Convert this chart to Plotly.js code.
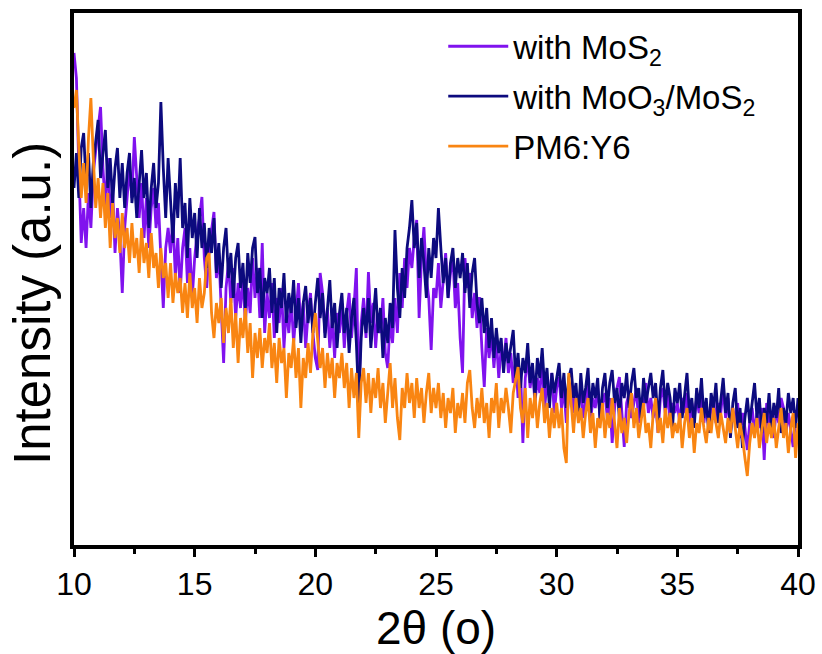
<!DOCTYPE html>
<html><head><meta charset="utf-8">
<script src="https://cdn.plot.ly/plotly-3.0.1.min.js"></script>
<style>html,body{margin:0;padding:0;background:#fff}</style>
</head><body><div id="chart" style="width:822px;height:654px"></div>
<script>
// 2θ grid: first angle and step (degrees)
const THETA_START = 10;
const THETA_STEP = 0.1;

const seriesNames = ['with MoS<sub>2</sub>', 'with MoO<sub>3</sub>/MoS<sub>2</sub>', 'PM6:Y6'];
const xTitle = '2θ (o)';
const yTitle = 'Intensity (a.u.)';

// intensities (a.u.), one value per 0.1° from 10° to 40°
const withMoS2 = [
495,470,380,305,340,300,355,320,375,400,
420,441,380,340,390,330,360,295,340,310,
255,320,355,380,350,411,370,330,365,310,
350,300,340,360,320,345,290,240,300,320,
295,330,270,310,255,300,320,265,300,250,
290,315,330,351,290,260,300,320,336,270,
295,240,185,260,285,245,280,230,265,240,
270,225,260,235,290,250,280,230,305,215,
255,230,265,210,250,225,260,200,240,215,
250,205,240,265,220,245,200,235,255,215,
190,178,275,255,215,240,200,230,190,235,
215,245,200,235,255,210,240,280,150,225,
250,210,276,225,245,200,235,215,250,195,
180,230,205,250,215,275,240,290,260,300,
280,310,328,230,290,321,270,250,198,260,
250,285,240,270,295,250,275,291,240,265,
210,175,290,260,275,230,255,220,251,200,
161,220,190,215,180,210,170,200,185,210,
175,195,165,190,150,180,105,170,190,160,
180,145,170,155,185,140,165,150,175,135,
160,171,140,160,125,150,165,135,155,140,
160,130,150,165,125,150,140,160,130,145,
155,130,150,105,140,160,171,130,101,145,
155,130,145,160,125,150,140,165,135,150,
130,145,115,150,160,135,155,125,145,135,
145,125,150,135,155,120,145,130,150,135,
155,125,145,120,140,150,125,145,135,161,
130,150,115,140,125,145,110,135,120,98,
125,140,115,135,120,140,88,145,120,135,
110,140,125,150,140,115,135,120,101,130,
135];

const withMoO3MoS2 = [
360,395,350,400,415,365,395,340,385,405,
428,370,395,418,360,390,345,380,400,350,
385,340,375,395,345,370,330,365,398,350,
375,320,360,385,340,365,446,380,330,390,
345,305,365,330,390,320,345,290,350,310,
335,290,340,300,325,280,320,295,330,275,
305,260,300,320,270,295,250,290,305,260,
285,240,295,265,300,311,255,280,230,270,
255,280,235,270,215,260,240,275,225,255,
235,268,220,250,205,245,262,225,250,215,
245,270,230,255,210,240,268,220,245,200,
235,255,215,240,195,230,250,205,145,210,
240,215,250,200,235,260,215,240,190,230,
205,245,220,318,260,230,280,250,300,320,
348,300,325,270,310,285,250,300,270,310,
290,340,300,265,290,250,285,300,260,290,
270,295,255,285,240,275,290,245,225,250,
215,240,200,230,190,220,195,210,175,205,
185,200,218,170,195,160,190,175,205,165,
185,150,190,170,200,160,180,140,175,155,
170,185,150,175,140,170,180,150,165,130,
175,145,160,180,135,165,150,170,125,160,
175,140,165,178,145,160,130,165,150,175,
140,165,180,150,160,130,170,145,160,175,
150,165,125,160,178,140,165,150,120,160,
145,165,130,155,175,135,150,120,160,140,
170,130,150,115,155,140,165,125,150,170,
135,155,110,145,160,120,140,100,130,150,
125,145,165,130,150,115,140,125,155,120,
145,130,160,115,140,125,155,135,150,120,
150];

const pm6y6 = [
440,458,400,350,385,345,410,450,390,340,
370,330,365,320,355,300,345,310,330,295,
335,300,320,285,325,290,310,275,320,285,
305,270,315,280,295,260,300,270,285,250,
285,245,275,255,270,235,265,230,275,240,
260,225,270,240,255,290,295,235,210,245,
225,250,205,240,215,250,200,235,185,230,
210,240,195,225,170,215,190,220,180,210,
195,225,180,205,165,210,185,200,150,195,
180,210,170,200,140,190,170,205,175,215,
235,210,180,200,160,195,170,190,150,185,
170,195,160,185,140,180,150,175,110,165,
180,145,175,135,170,150,180,140,165,125,
160,185,140,170,130,108,160,140,175,145,
165,130,170,140,160,125,155,175,135,160,
140,165,130,155,120,150,135,160,115,145,
130,155,125,165,178,140,120,150,130,160,
125,145,110,150,135,165,120,150,135,160,
140,115,155,170,181,140,125,160,110,150,
130,155,120,145,160,125,145,110,140,120,
145,120,140,100,85,175,140,115,150,125,
140,110,135,150,115,135,100,130,120,145,
110,135,120,150,125,100,140,115,130,105,
135,155,120,140,110,130,145,115,125,100,
135,150,115,130,105,140,120,135,110,125,
115,135,100,125,140,110,130,95,125,115,
140,120,105,130,115,140,125,110,135,120,
105,130,115,140,120,100,125,110,90,72,
105,125,110,130,100,120,135,105,125,110,
130,100,120,140,110,125,95,120,135,90,
125];

const seriesValues = [withMoS2, withMoO3MoS2, pm6y6];
const seriesColors = ['#8012EE', '#0C0A7E', '#F98512'];

const traces = seriesValues.map((vals, i) => ({
  type: 'scatter', mode: 'lines',
  x0: THETA_START, dx: THETA_STEP, y: vals,
  name: seriesNames[i], legendgroup: 'g' + i,
  line: {color: seriesColors[i], width: 2.8}
}));

const regular = 'Arial, Liberation Sans, Helvetica, sans-serif';
const layout = {
  width: 822, height: 654,
  margin: {l: 74, r: 24, t: 13, b: 109},
  paper_bgcolor: '#fff', plot_bgcolor: '#fff',
  showlegend: true,
  legend: {
    x: 0.51, y: 0.99, xanchor: 'left', yanchor: 'top',
    bgcolor: 'rgba(0,0,0,0)', traceorder: 'grouped', tracegroupgap: 4,
    font: {family: regular, size: 33, color: '#000'},
    itemwidth: 60
  },
  xaxis: {
    range: [10, 40], tick0: 10, dtick: 5,
    ticks: 'outside', ticklen: 8, tickwidth: 3, tickcolor: '#000',
    minor: {dtick: 2.5, ticks: 'outside', ticklen: 5, tickwidth: 3, tickcolor: '#000', showgrid: false},
    showline: true, linewidth: 4, linecolor: '#000', mirror: true,
    showgrid: false, zeroline: false, automargin: false,
    tickfont: {family: regular, size: 32, color: '#000'}
  },
  yaxis: {
    range: [3, 535], showticklabels: false, ticks: '',
    showline: true, linewidth: 4, linecolor: '#000', mirror: true,
    showgrid: false, zeroline: false, automargin: false
  },
  annotations: [
    {text: xTitle, xref: 'paper', yref: 'paper', x: 0.5, y: -0.156,
     xanchor: 'center', yanchor: 'middle', showarrow: false,
     font: {family: regular, size: 46, color: '#000'}},
    {text: yTitle, xref: 'paper', yref: 'paper', x: -0.058, y: 0.453,
     xanchor: 'center', yanchor: 'middle', showarrow: false, textangle: -90,
     font: {family: regular, size: 51, color: '#000'}}
  ]
};

Plotly.newPlot('chart', traces, layout, {displayModeBar: false, staticPlot: true});
</script>
</body></html>
